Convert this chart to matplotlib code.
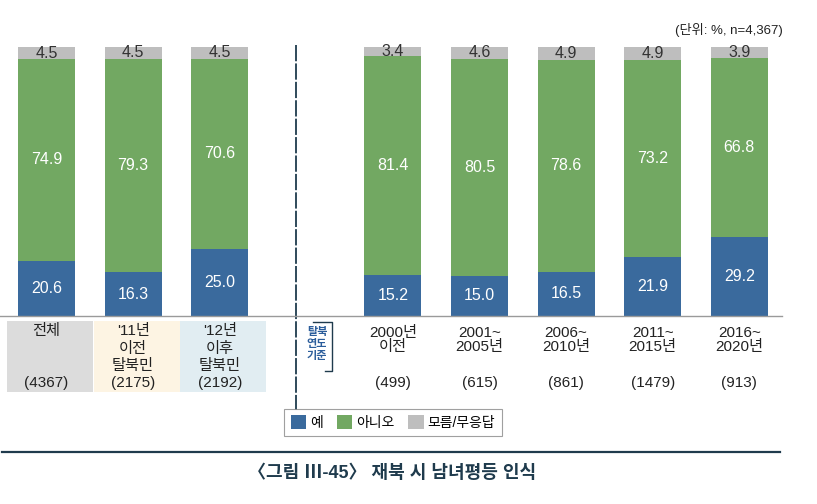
import matplotlib
matplotlib.use("Agg")
import matplotlib.pyplot as plt
from matplotlib.patches import Rectangle, Patch
from matplotlib.transforms import blended_transform_factory

plt.rcParams['font.family'] = ['Liberation Sans', 'Noto Sans CJK KR', 'DejaVu Sans']

# ---- data ----
categories = ["전체", "'11년\n이전\n탈북민", "'12년\n이후\n탈북민",
              "2000년\n이전", "2001~\n2005년", "2006~\n2010년", "2011~\n2015년", "2016~\n2020년"]
counts = ["(4367)", "(2175)", "(2192)", "(499)", "(615)", "(861)", "(1479)", "(913)"]
yes_vals = [20.6, 16.3, 25.0, 15.2, 15.0, 16.5, 21.9, 29.2]
no_vals = [74.9, 79.3, 70.6, 81.4, 80.5, 78.6, 73.2, 66.8]
dk_vals = [4.5, 4.5, 4.5, 3.4, 4.6, 4.9, 4.9, 3.9]
series_names = ["예", "아니오", "모름/무응답"]
group_label = "탈북\n연도\n기준"
unit_text = "(단위: %, n=4,367)"
title_text = "〈그림 Ⅲ-45〉 재북 시 남녀평등 인식"

positions = [0, 1, 2, 4, 5, 6, 7, 8]
box_colors = ["#dcdcdc", "#fdf4e3", "#e1edf2"]

C_YES = "#3a6a9d"
C_NO = "#72a862"
C_DK = "#bebebe"
DARK = "#1f3b4d"

W, H = 817, 504
fig = plt.figure(figsize=(W / 100, H / 100), dpi=100)

# overlay in pixel coordinates
ov = fig.add_axes([0, 0, 1, 1], zorder=0)
ov.set_xlim(0, W)
ov.set_ylim(H, 0)
ov.axis("off")

ax = fig.add_axes([0, 1 - 316 / H, 782 / W, 269 / H], zorder=1)
ax.patch.set_alpha(0)
ax.set_xlim(-0.537, 8.493)
ax.set_ylim(0, 100)
for s in ["top", "right", "left"]:
    ax.spines[s].set_visible(False)
ax.spines["bottom"].set_color("#9a9a9a")
ax.spines["bottom"].set_linewidth(1.0)
ax.set_xticks([])
ax.set_yticks([])

bw = 0.66
ax.bar(positions, yes_vals, bw, color=C_YES)
ax.bar(positions, no_vals, bw, bottom=yes_vals, color=C_NO)
bottom3 = [a + b for a, b in zip(yes_vals, no_vals)]
ax.bar(positions, dk_vals, bw, bottom=bottom3, color=C_DK)

for p, y, n, d, b3v in zip(positions, yes_vals, no_vals, dk_vals, bottom3):
    ax.text(p, y / 2, f"{y:.1f}", ha="center", va="center", color="white", fontsize=11.5)
    ax.text(p, y + n / 2, f"{n:.1f}", ha="center", va="center", color="white", fontsize=11.5)
    ax.text(p, b3v + d / 2, f"{d:.1f}", ha="center", va="center", color="#333333", fontsize=11.5)

tr = blended_transform_factory(ax.transData, ov.transData)

# category boxes for first three
for p, c in zip(positions[:3], box_colors):
    ov.add_patch(Rectangle((p - 0.455, 321), 0.995, 71, transform=tr, facecolor=c,
                           edgecolor="none", zorder=1))

for i, (p, cat, cnt) in enumerate(zip(positions, categories, counts)):
    lines = cat.split("\n")
    if i < 3:
        y0, step = 331, 17.5
    else:
        y0, step = 333, 14.5
    for k, ln in enumerate(lines):
        ov.text(p, y0 + k * step, ln, transform=tr, ha="center", va="center",
                fontsize=11, color="#222222", zorder=3)
    ov.text(p, 383, cnt, transform=tr, ha="center", va="center",
            fontsize=11, color="#222222", zorder=3)

# dashed separator
ov.plot([2.88, 2.88], [45, 410], transform=tr, color=DARK, lw=1.3,
        linestyle=(0, (9, 1.2)), zorder=3)

# group label with bracket
for k, ln in enumerate(group_label.split("\n")):
    ov.text(317, 332 + k * 12, ln, ha="center", va="center", fontsize=8,
            color="#2b5d9b", fontweight="bold", zorder=3)
ov.plot([313, 332, 332, 325], [322, 322, 371, 371], color=DARK, lw=1.0, zorder=3)

# legend
handles = [Patch(facecolor=C_YES), Patch(facecolor=C_NO), Patch(facecolor=C_DK)]
leg = fig.legend(handles, series_names, loc="center", bbox_to_anchor=(393 / W, 1 - 422.5 / H),
                 ncol=3, frameon=True, fancybox=False, fontsize=10, handlelength=1.1,
                 handleheight=1.1, handletextpad=0.3, columnspacing=1.0, borderpad=0.45,
                 borderaxespad=0)
leg.get_frame().set_edgecolor("#888888")
leg.get_frame().set_linewidth(0.8)

# unit text
fig.text(783 / W, 1 - 30 / H, unit_text, ha="right", va="center", fontsize=9.5, color="#222222")

# bottom rule and title
ov.plot([2, 780], [452, 452], color=DARK, lw=1.6)
fig.text(392 / W, 1 - 473 / H, title_text, ha="center", va="center", fontsize=13,
         color=DARK, fontweight="bold")

fig.savefig("out.png", dpi=100)
